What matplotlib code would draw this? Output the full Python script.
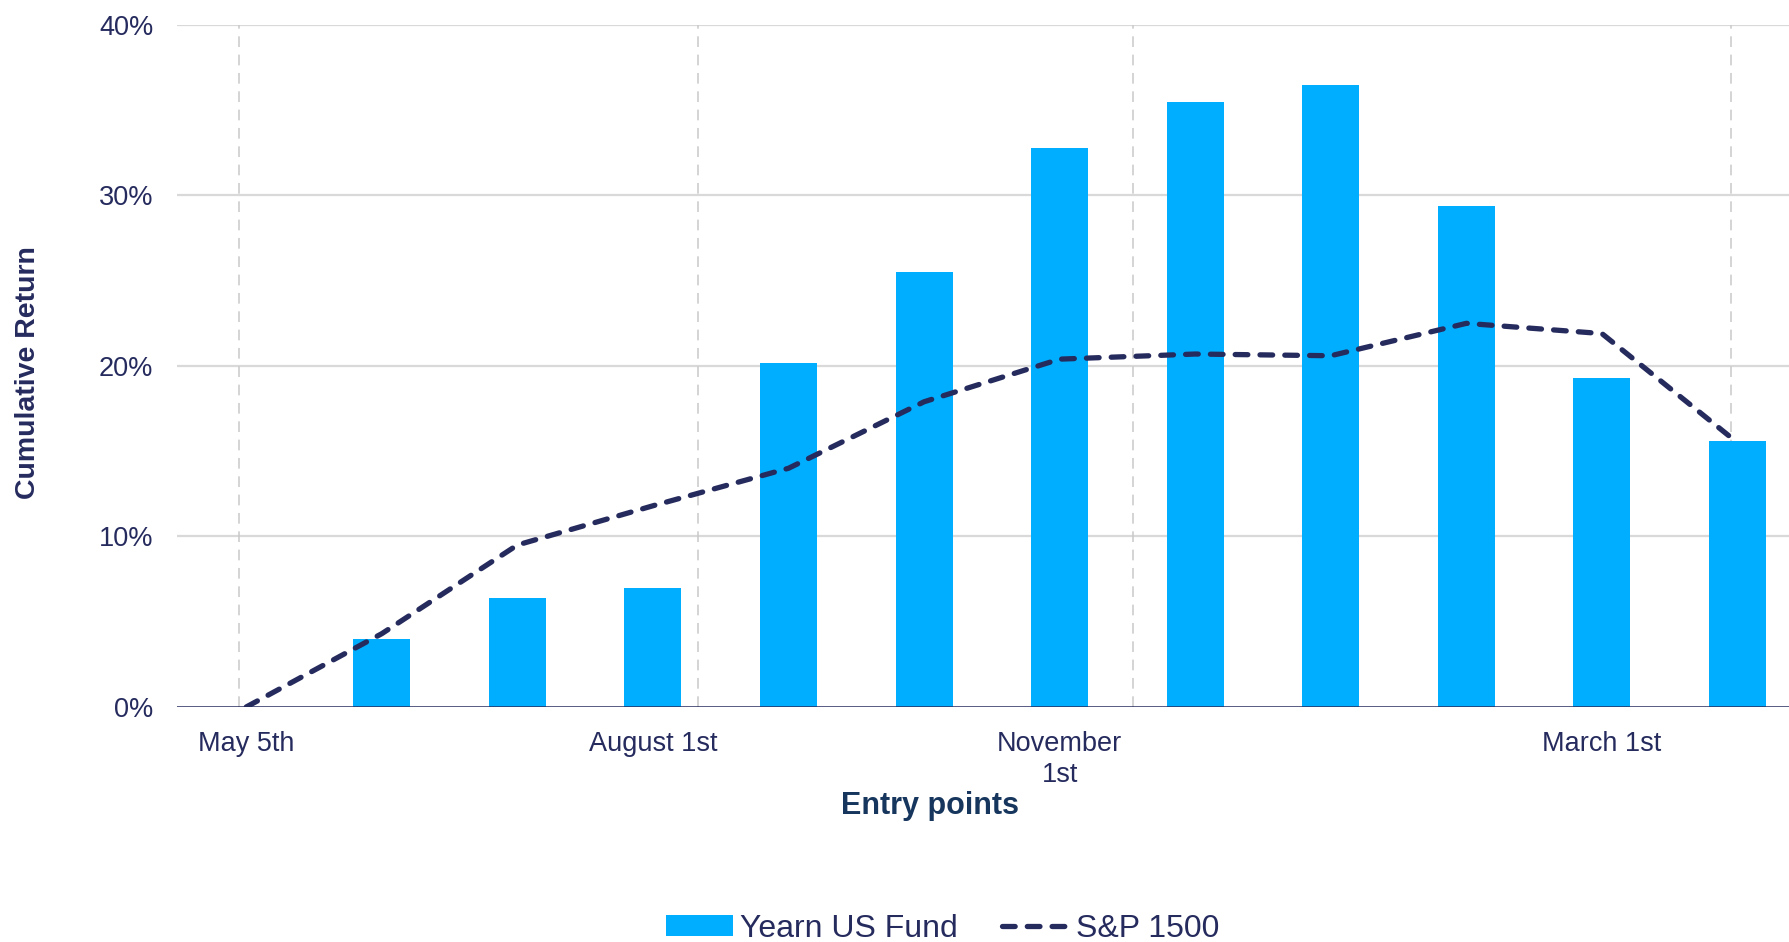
import matplotlib
matplotlib.use("Agg")
import matplotlib.pyplot as plt
from matplotlib.patches import Patch
from matplotlib.lines import Line2D

# entry points (only some are labelled on the axis)
categories = ["May 5th", "", "", "August 1st", "", "", "November\n1st",
              "", "", "", "March 1st", ""]
fund_returns = [0.0, 4.0, 6.4, 7.0, 20.2, 25.5, 32.8, 35.5, 36.5, 29.4, 19.3, 15.6]
sp1500_returns = [0.0, 4.3, 9.5, 11.8, 14.0, 17.9, 20.4, 20.7, 20.6, 22.5, 21.9, 15.5]
y_ticks = [0, 10, 20, 30, 40]
date_grid = [-0.05, 3.33, 6.54, 10.95]   # dashed month markers

NAVY = "#262b5e"
BLUE = "#00aeff"
FONT = ["Liberation Sans", "DejaVu Sans"]
DASH = (0, (2.4, 2.3))

fig = plt.figure(figsize=(17.89, 9.42), dpi=100)
ax = fig.add_axes([0.099, 0.2495, 0.901, 0.7240])

x = list(range(len(categories)))
ax.bar(x, fund_returns, width=0.42, color=BLUE, zorder=2)
ax.plot(x, sp1500_returns, color=NAVY, lw=3.8, linestyle=DASH,
        dash_capstyle="round", solid_joinstyle="round", zorder=3)

for g in date_grid:
    ax.axvline(g, color="#c9c9c9", lw=1.1, linestyle=(0, (7, 5)), zorder=1)
for t in y_ticks[1:]:
    ax.axhline(t, color="#d9d9d9", lw=1.6, zorder=0)
ax.axhline(0, color=NAVY, lw=1.8, zorder=4)

ax.set_xlim(-0.51, 11.38)
ax.set_ylim(0, 40)
ax.set_yticks(y_ticks)
ax.set_yticklabels([f"{t}%" for t in y_ticks])
ax.set_xticks(x)
ax.set_xticklabels(categories, linespacing=1.25)
ax.tick_params(length=0, colors=NAVY, labelsize=19.5)
ax.tick_params(axis="x", pad=17)
ax.tick_params(axis="y", pad=17)
for lab in ax.get_xticklabels() + ax.get_yticklabels():
    lab.set_family(FONT)
for s in ax.spines.values():
    s.set_visible(False)

fig.text(0.0155, 0.605, "Cumulative Return", rotation=90, ha="center", va="center",
         color=NAVY, fontsize=20.5, fontweight="bold", family=FONT)
fig.text(0.520, 0.144, "Entry points", ha="center", va="center",
         color="#17365d", fontsize=22, fontweight="bold", family=FONT)

handles = [Patch(facecolor=BLUE, edgecolor="none"),
           Line2D([], [], color=NAVY, lw=3.8, linestyle=DASH, dash_capstyle="round")]
fig.legend(handles, ["Yearn US Fund", "S&P 1500"], loc="center", bbox_to_anchor=(0.527, 0.014),
           ncol=2, frameon=False, prop={"family": FONT, "size": 23},
           labelcolor=NAVY, handlelength=2.1, handleheight=0.65, handletextpad=0.22,
           columnspacing=1.4, borderpad=0)

fig.savefig("out.png", dpi=100)
